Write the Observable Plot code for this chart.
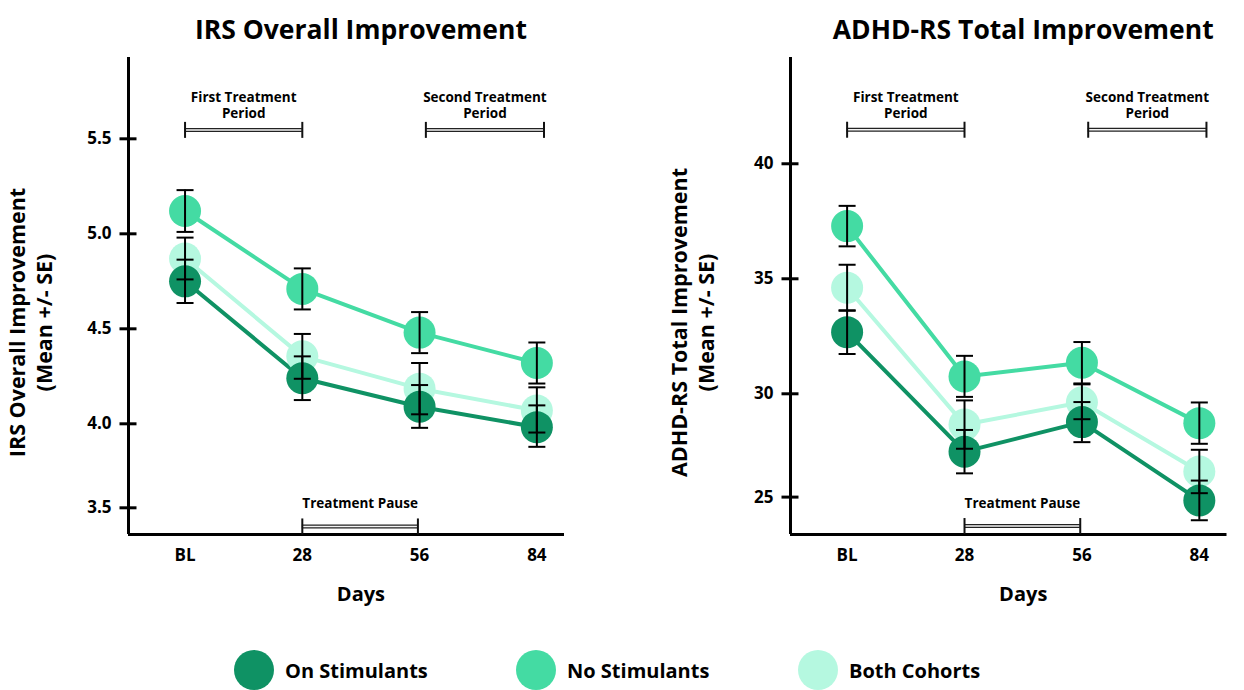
<!DOCTYPE html>
<html><head><meta charset="utf-8">
<script src="https://cdn.jsdelivr.net/npm/d3@7"></script>
<script src="https://cdn.jsdelivr.net/npm/@observablehq/plot@0.6"></script>
<style>
body{margin:0;background:#fff;font-family:"Open Sans",sans-serif;}
#wrap{position:relative;width:1244px;height:690px;overflow:hidden;background:#fff}
.panel{position:absolute;top:0}
.leg{position:absolute;top:650px;height:40px;display:flex;align-items:center;font-size:20px;font-weight:700;color:#000;white-space:nowrap}
.sw{width:40px;height:40px;border-radius:50%;margin-right:11px}
</style></head><body>
<div id="wrap"><div id="left" class="panel" style="left:0"></div><div id="right" class="panel" style="left:622px"></div></div>
<script>
// ---- data ----
const days = [0, 28, 56, 84];
const dayLabels = ["BL", "28", "56", "84"];
const seriesNames = ["On Stimulants", "No Stimulants", "Both Cohorts"];
const seriesColors = ["#0f9264", "#44dba3", "#b5f8e0"];

const irsOnMean   = [4.75, 4.24, 4.09, 3.98];
const irsOnSE     = [0.114, 0.115, 0.114, 0.117];
const irsNoMean   = [5.12, 4.71, 4.48, 4.32];
const irsNoSE     = [0.11, 0.108, 0.108, 0.108];
const irsBothMean = [4.87, 4.355, 4.185, 4.07];
const irsBothSE   = [0.11, 0.118, 0.135, 0.122];
const irsTicks    = [3.5, 4.0, 4.5, 5.0, 5.5];

const adhdOnMean   = [32.68, 27.2, 28.63, 24.84];
const adhdOnSE     = [0.95, 1.05, 0.97, 0.96];
const adhdNoMean   = [37.29, 30.75, 31.35, 28.58];
const adhdNoSE     = [0.88, 0.9, 0.9, 1.0];
const adhdBothMean = [34.61, 28.51, 29.59, 26.24];
const adhdBothSE   = [1.0, 1.17, 0.82, 1.05];
const adhdTicks    = [25, 30, 35, 40];

const periodLabels = ["First Treatment\nPeriod", "Second Treatment\nPeriod"];
const periodStart  = [0, 57.5];
const periodEnd    = [28, 85.7];
const pauseLabel   = "Treatment Pause";
const pauseStart   = 28;
const pauseEnd     = 55.6;

// ---- chart builder ----
const hCap = {draw(ctx) { ctx.moveTo(-8.5, 0); ctx.lineTo(8.5, 0); }};
const vCap = {draw(ctx) { ctx.moveTo(0, -8); ctx.lineTo(0, 8); }};

function makeChart(o) {
  // the source axis compresses the segment below the break value
  const f = v => v >= o.brk ? v : o.brk - (o.brk - v) * o.k;
  const finv = t => t >= o.brk ? t : o.brk - (o.brk - t) / o.k;
  const rows = [];
  seriesNames.forEach((s, i) => days.forEach((d, j) =>
    rows.push({series: s, order: i, day: d, mean: o.means[i][j], se: o.ses[i][j]})));
  const drawOrder = [2, 1, 0];
  const drows = drawOrder.flatMap(i => rows.filter(r => r.order === i));
  const periods = periodLabels.map((l, i) => ({label: l, start: periodStart[i], end: periodEnd[i], y: o.periodY}));
  const pause = [{label: pauseLabel, start: pauseStart, end: pauseEnd, y: o.pauseY}];
  const brackets = periods.concat(pause);
  const ends = brackets.flatMap(b => [{x: b.start, y: b.y}, {x: b.end, y: b.y}]);
  const xMid = (days[0] + days[days.length - 1]) / 2;
  const T = {fontWeight: 700, fill: "#000"};
  return Plot.plot({
    width: 622, height: 640,
    marginLeft: o.marginLeft, marginRight: o.marginRight, marginTop: 57, marginBottom: 106,
    x: {domain: [-13.5, 90.6], axis: null},
    y: {domain: o.yDomain, axis: null},
    color: {domain: seriesNames, range: seriesColors},
    style: {fontFamily: "'Open Sans', sans-serif", fontWeight: 700, color: "#000", overflow: "visible", background: "#fff"},
    marks: [
      // axes
      Plot.ruleX([-13.5], {stroke: "#000", strokeWidth: 3}),
      Plot.ruleY([o.yDomain[0]], {stroke: "#000", strokeWidth: 3}),
      Plot.axisY({ticks: o.yTicks.map(f), tickSize: 17, dx: 8.5, tickFormat: () => "", stroke: "#000", strokeWidth: 3}),
      Plot.axisY({ticks: o.yTicks.map(f), tickSize: 0, tickPadding: 17, tickFormat: t => o.yFormat(finv(t)), fontSize: 17, ...T}),
      Plot.axisX({ticks: days, tickSize: 0, tickPadding: 14, tickFormat: d => dayLabels[days.indexOf(d)], fontSize: 17, label: null, ...T}),
      Plot.text([xMid], {x: d => d, frameAnchor: "bottom", dy: 66, text: () => "Days", fontSize: 20, ...T}),
      Plot.text([xMid], {x: d => d, frameAnchor: "top", dy: -37, text: () => o.title, fontSize: 26.5, ...T}),
      Plot.text([o.ylabel1], {frameAnchor: "left", textAnchor: "middle", rotate: -90, dx: -110, dy: 26.5, fontSize: 21.5, ...T}),
      Plot.text([o.ylabel2], {frameAnchor: "left", textAnchor: "middle", rotate: -90, dx: -83, dy: 26.5, fontSize: 21.5, ...T}),
      // brackets
      Plot.ruleY(brackets, {y: d => f(d.y), x1: "start", x2: "end", stroke: "#222", strokeWidth: 4}),
      Plot.ruleY(brackets, {y: d => f(d.y), x1: "start", x2: "end", stroke: "#f4f4f4", strokeWidth: 1.5}),
      Plot.dot(ends, {x: "x", y: d => f(d.y), symbol: vCap, stroke: "#111", fill: "none", strokeWidth: 2}),
      Plot.text(periods, {x: d => (d.start + d.end) / 2, y: d => f(d.y), text: "label", lineAnchor: "bottom", dy: -12, fontSize: 13.5, lineHeight: 1.15, ...T}),
      Plot.text(pause, {x: d => (d.start + d.end) / 2, y: d => f(d.y), text: "label", lineAnchor: "bottom", dy: -18, fontSize: 13.5, ...T}),
      // data
      Plot.line(drows, {x: "day", y: d => f(d.mean), z: "series", stroke: "series", strokeWidth: 4}),
      Plot.dot(drows, {x: "day", y: d => f(d.mean), r: 16, fill: "series", stroke: null}),
      Plot.ruleX(rows, {x: "day", y1: d => f(d.mean - d.se), y2: d => f(d.mean + d.se), stroke: "#000", strokeWidth: 2}),
      Plot.dot(rows, {x: "day", y: d => f(d.mean + d.se), symbol: hCap, stroke: "#000", fill: "none", strokeWidth: 2}),
      Plot.dot(rows, {x: "day", y: d => f(d.mean - d.se), symbol: hCap, stroke: "#000", fill: "none", strokeWidth: 2})
    ]
  });
}

document.getElementById("left").appendChild(makeChart({
  title: "IRS Overall Improvement",
  ylabel1: "IRS Overall Improvement", ylabel2: "(Mean +/- SE)",
  means: [irsOnMean, irsNoMean, irsBothMean], ses: [irsOnSE, irsNoSE, irsBothSE],
  yTicks: irsTicks, yFormat: d3.format(".1f"),
  brk: 4.0, k: 84 / 95,
  yDomain: [3.4174, 5.928],
  periodY: 5.547, pauseY: 3.389,
  marginLeft: 128, marginRight: 58
}));
document.getElementById("right").appendChild(makeChart({
  title: "ADHD-RS Total Improvement",
  ylabel1: "ADHD-RS Total Improvement", ylabel2: "(Mean +/- SE)",
  means: [adhdOnMean, adhdNoMean, adhdBothMean], ses: [adhdOnSE, adhdNoSE, adhdBothSE],
  yTicks: adhdTicks, yFormat: d3.format("d"),
  brk: 30, k: 103.3 / 115,
  yDomain: [23.883, 44.62],
  periodY: 41.48, pauseY: 23.6,
  marginLeft: 168, marginRight: 17.5
}));

// legend
const legLeft = [234, 516, 798];
seriesNames.forEach((s, i) => {
  const el = document.createElement("div");
  el.className = "leg";
  el.style.left = legLeft[i] + "px";
  el.innerHTML = `<div class="sw" style="background:${seriesColors[i]}"></div><span>${s}</span>`;
  document.getElementById("wrap").appendChild(el);
});
</script>
</body></html>
